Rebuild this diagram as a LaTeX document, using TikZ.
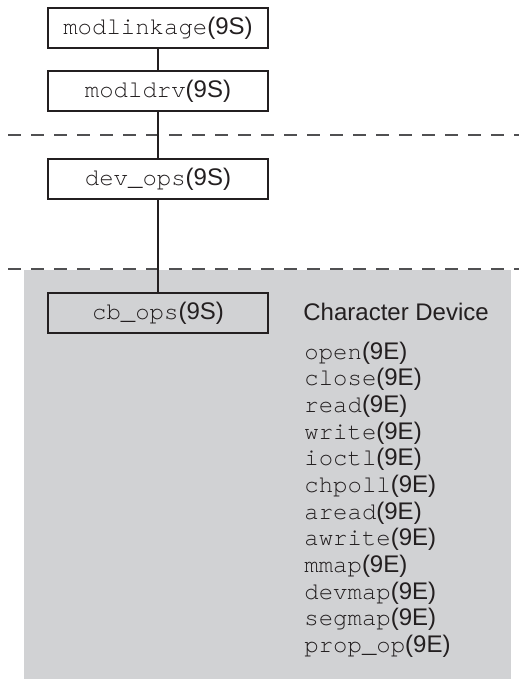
\documentclass[tikz,border=0pt]{standalone}
\usepackage{fontspec}
\setmainfont{Liberation Sans}
\newfontfamily\mono{texgyrecursor-regular.otf}
\usetikzlibrary{positioning}
\definecolor{ink}{RGB}{35,31,32}
\definecolor{areagray}{RGB}{209,210,212}
\definecolor{dashgray}{RGB}{80,80,82}
\begin{document}
\begin{tikzpicture}[x=0.5pt,y=-0.5pt,
    box/.style={draw=ink,line width=1.2pt,minimum width=110pt,minimum height=20pt,inner sep=0pt,text=ink,font=\fontsize{12}{13}\selectfont},
    link/.style={draw=ink,line width=0.6pt},
    layer/.style={dashgray,line width=0.7pt,dash pattern=on 6.5pt off 5pt},
    entry/.style={anchor=base west,inner sep=0pt,text=ink,font=\fontsize{12}{13}\selectfont}]
    \useasboundingbox (0,0) rectangle (519,679);
    % character device area
    \fill[areagray] (24,270) rectangle (511,679);
    % layer separators
    \draw[layer] (8,135) -- (519,135);
    \draw[layer] (8,269) -- (519,269);
    % structures
    \node[box] (mlink) at (158,28) {{\mono modlinkage}(9S)};
    \node[box] (mdrv) at (158,91) {{\mono modldrv}(9S)};
    \node[box] (devops) at (158,179) {{\mono dev\_ops}(9S)};
    \node[box] (cbops) at (158,313) {{\mono cb\_ops}(9S)};
    \draw[link] (mlink) -- (mdrv);
    \draw[link] (mdrv) -- (devops);
    \draw[link] (devops) -- (cbops);
    % entry points
    \node[entry] (chardev) at (303,320) {Character Device};
    \foreach \name [count=\i from 0] in {open,close,read,write,ioctl,chpoll,aread,awrite,mmap,devmap,segmap,prop\_op}
        \node[entry] (ep\i) at (304,{359+26.67*\i}) {{\mono \name}(9E)};
\end{tikzpicture}
\end{document}
